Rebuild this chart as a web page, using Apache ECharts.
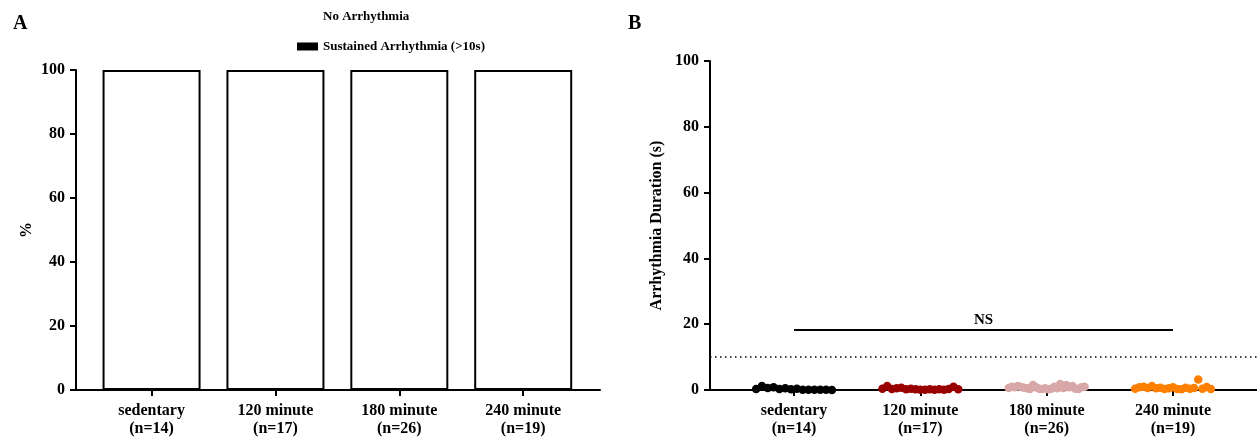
<!DOCTYPE html>
<html>
<head>
<meta charset="utf-8">
<script src="https://cdn.jsdelivr.net/npm/echarts@6/dist/echarts.min.js"></script>
<style>
  html, body { margin: 0; padding: 0; background: #fff; }
  #chart { width: 1257px; height: 438px; }
</style>
</head>
<body>
<div id="chart"></div>
<script>
// Groups shown on both panels
const groups = ['sedentary', '120 minute', '180 minute', '240 minute'];
const groupN = [14, 17, 26, 19];

// Panel A: percentage of animals per outcome
const noArrhythmiaPct = [100, 100, 100, 100];
const sustainedPct = [0, 0, 0, 0];

// Panel B: arrhythmia duration (s) for each animal
const durSedentary = [0.3, 1.2, 0.6, 0.8, 0.3, 0.5, 0.2, 0.4, 0.1, 0.1, 0.1, 0.1, 0.1, 0.0];
const dur120 = [0.4, 1.2, 0.3, 0.5, 0.7, 0.2, 0.4, 0.2, 0.1, 0.1, 0.2, 0.1, 0.2, 0.1, 0.3, 1.0, 0.2];
const dur180 = [0.6, 1.0, 0.8, 1.2, 0.9, 0.7, 0.5, 0.3, 1.5, 0.8, 0.4, 0.3, 0.5, 0.2, 0.4, 1.0, 0.5, 1.8, 0.6, 1.5, 0.8, 1.2, 0.4, 0.3, 0.8, 1.0];
const dur240 = [0.4, 0.8, 1.0, 0.6, 1.2, 0.5, 0.7, 0.3, 0.5, 0.8, 0.3, 0.2, 0.7, 0.4, 0.6, 3.2, 0.4, 0.9, 0.3];
const durations = [durSedentary, dur120, dur180, dur240];
const groupColors = ['#000000', '#990000', '#d8a8a8', '#ff8000'];

// Reference threshold and significance bracket
const thresholdSec = 10;
const bracketY = 18.3;
const bracketText = 'NS';

const FONT = '"Liberation Serif", "Times New Roman", serif';
const catLabels = groups.map((g, i) => g + '\n(n=' + groupN[i] + ')');
const catPos = groups.map((g, i) => i + 1);

function xAxisFor(gridIndex, min, max) {
  return {
    type: 'value', gridIndex, min, max,
    splitLine: { show: false },
    axisLine: { show: true, onZero: false, lineStyle: { color: '#000', width: 2 } },
    axisTick: { show: true, customValues: catPos, length: 6, lineStyle: { color: '#000', width: 2 } },
    axisLabel: {
      customValues: catPos,
      formatter: v => catLabels[Math.round(v) - 1] || '',
      color: '#000', fontFamily: FONT, fontWeight: 'bold', fontSize: 16, lineHeight: 18, margin: 12
    }
  };
}
function yAxisFor(gridIndex, name, nameGap) {
  return {
    type: 'value', gridIndex, min: 0, max: 100, interval: 20,
    name, nameLocation: 'middle', nameGap, nameRotate: 90,
    nameTextStyle: { color: '#000', fontFamily: FONT, fontWeight: 'bold', fontSize: 16 },
    splitLine: { show: false },
    axisLine: { show: true, lineStyle: { color: '#000', width: 2 } },
    axisTick: { show: true, inside: false, length: 6, lineStyle: { color: '#000', width: 2 } },
    axisLabel: { color: '#000', fontFamily: FONT, fontWeight: 'bold', fontSize: 16, margin: 11 }
  };
}

// Beeswarm-like horizontal spread of each group's points
const spread = 0.6;
const scatterSeries = durations.map((vals, g) => ({
  type: 'scatter', xAxisIndex: 1, yAxisIndex: 1,
  symbolSize: 8.5, clip: false,
  itemStyle: { color: groupColors[g], opacity: 1 },
  data: vals.map((v, i) => [g + 1 + (vals.length > 1 ? (i / (vals.length - 1) - 0.5) * spread : 0), v]),
  z: 5
}));

const option = {
  backgroundColor: '#fff',
  animation: false,
  title: [
    { text: 'A', left: 8, top: 9, textStyle: { fontFamily: FONT, fontWeight: 'bold', fontSize: 20, color: '#000' } },
    { text: 'B', left: 623, top: 9, textStyle: { fontFamily: FONT, fontWeight: 'bold', fontSize: 20, color: '#000' } }
  ],
  legend: {
    orient: 'vertical', left: 292, top: 3, itemGap: 13,
    itemWidth: 21, itemHeight: 8, icon: 'rect',
    textStyle: { fontFamily: FONT, fontWeight: 'bold', fontSize: 13, color: '#000', lineHeight: 17 },
    data: [
      { name: 'No Arrhythmia', itemStyle: { color: '#fff', borderWidth: 0 } },
      { name: 'Sustained Arrhythmia (>10s)', itemStyle: { color: '#000', borderWidth: 0 } }
    ]
  },
  grid: [
    { left: 76, top: 70, width: 524, bottom: 48 },
    { left: 710, top: 61, right: 0, bottom: 48 }
  ],
  xAxis: [xAxisFor(0, 0.39, 4.62), xAxisFor(1, 0.335, 4.665)],
  yAxis: [yAxisFor(0, '%', 41), yAxisFor(1, 'Arrhythmia Duration (s)', 45)],
  series: [
    {
      name: 'No Arrhythmia', type: 'bar', stack: 'pct', xAxisIndex: 0, yAxisIndex: 0,
      barWidth: 98,
      itemStyle: { color: '#fff', borderColor: '#000', borderWidth: 2 },
      data: noArrhythmiaPct.map((v, i) => [i + 1, v])
    },
    {
      name: 'Sustained Arrhythmia (>10s)', type: 'bar', stack: 'pct', xAxisIndex: 0, yAxisIndex: 0,
      barWidth: 98,
      itemStyle: { color: '#000', borderColor: '#000', borderWidth: 0 },
      data: sustainedPct.map((v, i) => [i + 1, v])
    },
    {
      type: 'line', xAxisIndex: 1, yAxisIndex: 1, data: [], silent: true,
      markLine: {
        symbol: 'none', silent: true, animation: false,
        data: [
          {
            yAxis: thresholdSec,
            lineStyle: { color: '#000', width: 1.5, type: [1.5, 3.5] },
            label: { show: false }
          },
          [
            { coord: [1, bracketY], lineStyle: { color: '#000', width: 2, type: 'solid' },
              label: { show: true, formatter: bracketText, position: 'middle', distance: 2,
                       color: '#000', fontFamily: FONT, fontWeight: 'bold', fontSize: 15 } },
            { coord: [4, bracketY] }
          ]
        ]
      }
    },
    ...scatterSeries
  ]
};

const chart = echarts.init(document.getElementById('chart'), null, { renderer: 'canvas' });
chart.setOption(option);
</script>
</body>
</html>
